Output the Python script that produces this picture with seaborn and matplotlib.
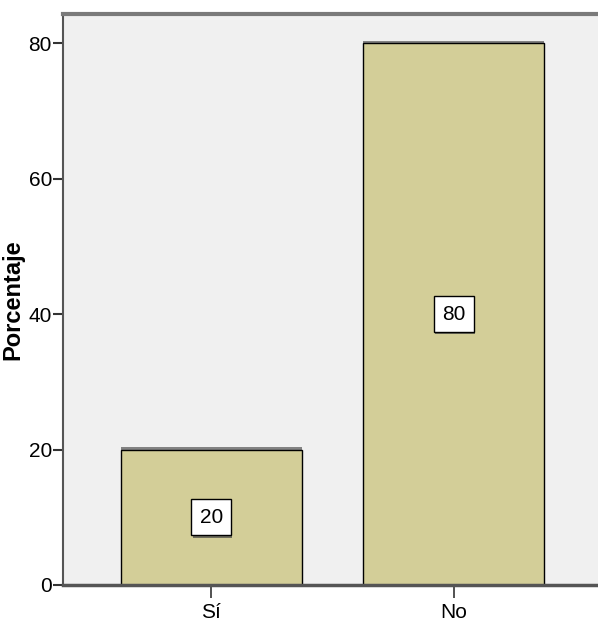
import matplotlib
matplotlib.use("Agg")
import matplotlib.pyplot as plt
import matplotlib.patheffects as pe
import seaborn as sns
import pandas as pd

# Datos del gráfico
categorias = ["Sí", "No"]
porcentajes = [20, 80]
ticks_y = [0, 20, 40, 60, 80]

sns.set_theme(style="white")
plt.rcParams["font.family"] = ["Liberation Sans", "DejaVu Sans"]

df = pd.DataFrame({"respuesta": categorias, "porcentaje": porcentajes})

fig = plt.figure(figsize=(5.98, 6.28), dpi=100)
ax = fig.add_axes([63 / 598, 1 - 585 / 628, 1 - 63 / 598, (585 - 14) / 628])
ax.set_facecolor("#F0F0F0")

sns.barplot(data=df, x="respuesta", y="porcentaje", color="#D3CE98",
            saturation=1, width=0.746, edgecolor="black", linewidth=1.0, ax=ax)
for bar in ax.patches:
    bar.set_path_effects([pe.SimplePatchShadow(offset=(0, 1.5), shadow_rgbFace="#555555", alpha=0.7),
                          pe.Normal()])

ax.set_xlim(-0.612, 1.594)
ax.set_ylim(0, 84.3)
ax.set_yticks(ticks_y)
ax.set_yticklabels([str(t) for t in ticks_y])

# Etiquetas de valor en el centro de cada barra
for i, v in enumerate(porcentajes):
    t = ax.text(i, v / 2, str(v), ha="center", va="center", fontsize=15, color="black",
                bbox=dict(boxstyle="square,pad=0.4", fc="white", ec="black", lw=1.0))
    t.get_bbox_patch().set_path_effects([
        pe.SimplePatchShadow(offset=(0.8, -1.8), shadow_rgbFace="#444444", alpha=0.7),
        pe.Normal()])

ax.set_xlabel("")
ax.set_ylabel("Porcentaje", fontsize=17, fontweight="bold", color="black")
ax.yaxis.set_label_coords(-39 / 535, 0.5)

for s in ["left", "bottom", "top"]:
    ax.spines[s].set_visible(True)
    ax.spines[s].set_color("#555555")
ax.spines["right"].set_visible(False)
ax.spines["left"].set_linewidth(1.5)
ax.spines["bottom"].set_linewidth(2.5)
ax.spines["top"].set_linewidth(3.0)
ax.spines["top"].set_color("#7a7a7a")

ax.tick_params(axis="y", which="major", left=True, length=7, width=1.5, color="#333333",
               labelsize=15, pad=1, direction="out")
ax.tick_params(axis="x", which="major", bottom=True, length=9, width=1.2, color="#333333",
               labelsize=15, pad=4, direction="out")
for lbl in ax.get_xticklabels() + ax.get_yticklabels():
    lbl.set_color("black")

fig.savefig("out.png", dpi=100, facecolor="white")
